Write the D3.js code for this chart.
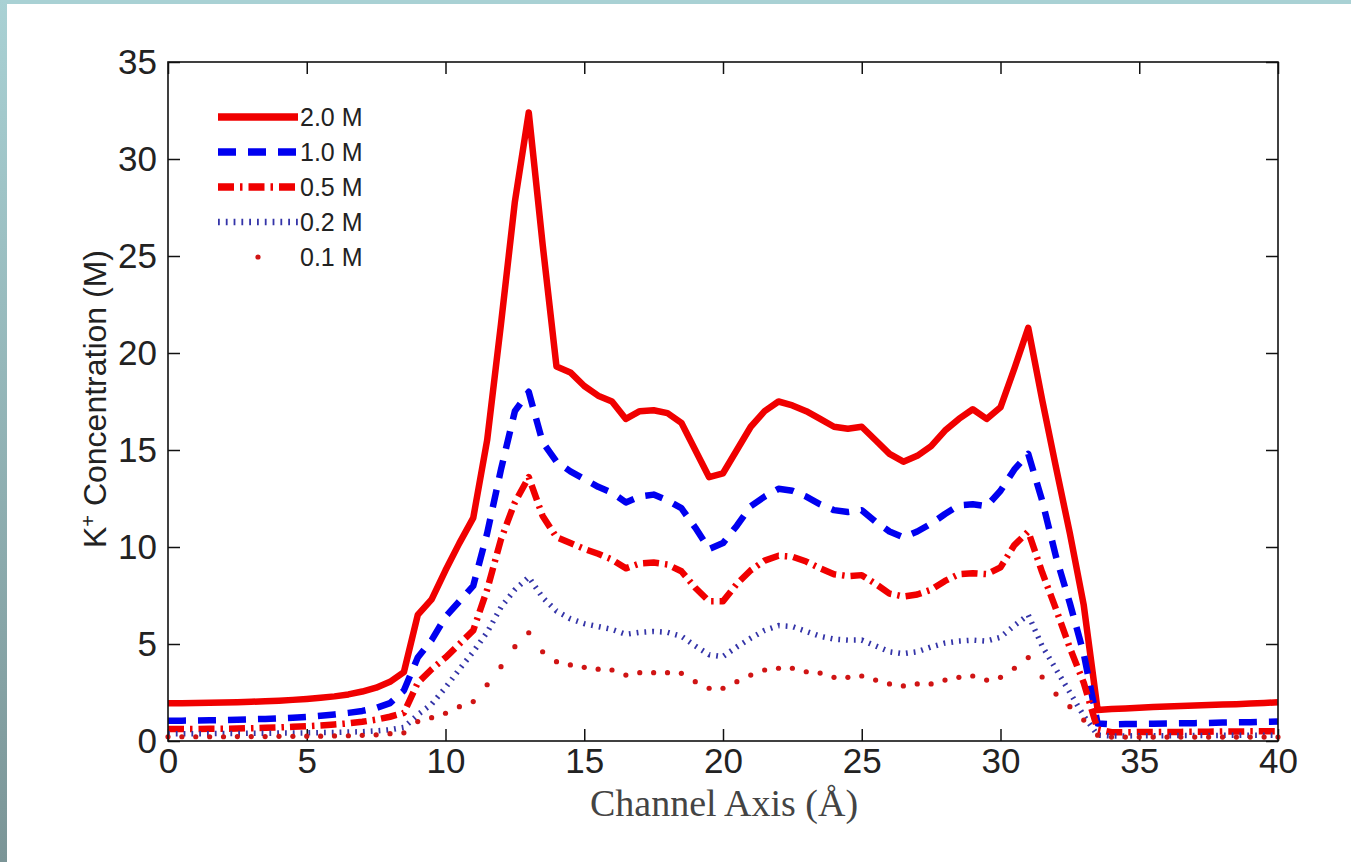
<!DOCTYPE html>
<html>
<head>
<meta charset="utf-8">
<script src="https://d3js.org/d3.v7.min.js"></script>
<style>
  body { margin: 0; background: #fff; }
  svg { display: block; }
</style>
</head>
<body>
<div id="chart"></div>
<script>
// position along the channel axis (Å)
const positions = [0, 0.5, 1, 1.5, 2, 2.5, 3, 3.5, 4, 4.5, 5, 5.5, 6, 6.5, 7, 7.5, 8, 8.5, 9, 9.5,
  10, 10.5, 11, 11.5, 12, 12.5, 13, 13.5, 14, 14.5, 15, 15.5, 16, 16.5, 17, 17.5, 18, 18.5, 19, 19.5,
  20, 20.5, 21, 21.5, 22, 22.5, 23, 23.5, 24, 24.5, 25, 25.5, 26, 26.5, 27, 27.5, 28, 28.5, 29, 29.5,
  30, 30.5, 31, 31.5, 32, 32.5, 33, 33.5, 34, 34.5, 35, 35.5, 36, 36.5, 37, 37.5, 38, 38.5, 39, 39.5, 40];

// K+ concentration (M) for each bulk concentration
const conc20 = [1.95, 1.95, 1.96, 1.97, 1.98, 2.0, 2.02, 2.05, 2.08, 2.12, 2.17, 2.23, 2.3, 2.4, 2.55, 2.75, 3.05, 3.55, 6.5, 7.3,
  8.8, 10.2, 11.5, 15.5, 21.5, 27.8, 32.4, 25.6, 19.3, 19.0, 18.3, 17.8, 17.5, 16.6, 17.0, 17.05, 16.9, 16.4, 15.0, 13.6,
  13.8, 15.0, 16.2, 17.0, 17.5, 17.3, 17.0, 16.6, 16.2, 16.1, 16.2, 15.5, 14.8, 14.4, 14.7, 15.2, 16.0, 16.6, 17.1, 16.6,
  17.2, 19.2, 21.3, 17.6, 14.1, 10.7, 7.0, 1.6, 1.65, 1.68, 1.72, 1.75, 1.78, 1.8, 1.83, 1.86, 1.88, 1.9, 1.93, 1.96, 2.0];
const conc10 = [1.05, 1.05, 1.06, 1.07, 1.08, 1.1, 1.12, 1.14, 1.17, 1.2, 1.24, 1.3, 1.37, 1.45, 1.55, 1.7, 1.95, 2.6, 4.3, 5.2,
  6.4, 7.2, 8.0, 10.7, 14.0, 17.0, 18.0, 15.4, 14.4, 13.9, 13.5, 13.1, 12.8, 12.3, 12.6, 12.7, 12.4, 12.0, 11.0, 9.9,
  10.2, 11.1, 12.1, 12.6, 13.0, 12.9, 12.6, 12.2, 11.9, 11.8, 11.9, 11.3, 10.8, 10.5, 10.8, 11.2, 11.7, 12.15, 12.2, 12.1,
  12.9, 14.0, 14.8, 12.4, 9.5, 7.1, 4.5, 0.9, 0.86, 0.87, 0.88, 0.89, 0.9, 0.91, 0.92, 0.93, 0.95, 0.96, 0.97, 0.99, 1.0];
const conc05 = [0.62, 0.62, 0.62, 0.63, 0.63, 0.64, 0.66, 0.68, 0.7, 0.73, 0.76, 0.8, 0.85, 0.91, 0.99, 1.1, 1.25, 1.45, 3.0, 3.7,
  4.3, 5.0, 5.7, 7.8, 10.4, 12.3, 13.6, 11.6, 10.5, 10.2, 9.9, 9.65, 9.35, 8.9, 9.15, 9.2, 9.1, 8.75, 7.9, 7.2,
  7.2, 8.1, 8.8, 9.3, 9.55, 9.5, 9.25, 8.9, 8.6, 8.5, 8.55, 8.1, 7.6, 7.45, 7.55, 7.8, 8.25, 8.6, 8.65, 8.6,
  8.95, 10.1, 10.8, 8.7, 6.8, 4.8, 3.0, 0.6, 0.45, 0.45, 0.46, 0.46, 0.47, 0.47, 0.48, 0.48, 0.49, 0.49, 0.5, 0.5, 0.5];
const conc02 = [0.38, 0.38, 0.38, 0.38, 0.39, 0.39, 0.4, 0.4, 0.41, 0.41, 0.42, 0.43, 0.44, 0.46, 0.48, 0.52, 0.58, 0.7, 1.35, 1.9,
  2.75, 3.7, 4.6, 5.6, 6.9, 7.8, 8.45, 7.4, 6.7, 6.3, 6.05, 5.9, 5.75, 5.5, 5.6, 5.65, 5.6, 5.4, 4.9, 4.45,
  4.35, 4.85, 5.3, 5.7, 5.95, 5.9, 5.65, 5.4, 5.25, 5.2, 5.2, 4.9, 4.6, 4.5, 4.6, 4.85, 5.05, 5.15, 5.2, 5.15,
  5.35, 5.95, 6.5, 4.9, 3.7, 2.5, 1.3, 0.3, 0.26, 0.26, 0.27, 0.27, 0.27, 0.28, 0.28, 0.28, 0.29, 0.29, 0.3, 0.3, 0.3];
const conc01 = [0.22, 0.22, 0.22, 0.22, 0.22, 0.23, 0.23, 0.23, 0.24, 0.24, 0.25, 0.25, 0.26, 0.27, 0.29, 0.32, 0.38, 0.42, 1.0, 1.2,
  1.43, 1.77, 2.03, 2.9, 3.83, 4.86, 5.58, 4.6, 4.09, 3.92, 3.8, 3.7, 3.66, 3.4, 3.52, 3.52, 3.52, 3.49, 3.06, 2.72,
  2.72, 3.06, 3.4, 3.66, 3.75, 3.75, 3.57, 3.5, 3.28, 3.28, 3.35, 3.14, 2.94, 2.84, 2.94, 2.94, 3.14, 3.28, 3.35, 3.14,
  3.28, 3.75, 4.3, 3.3, 2.42, 1.77, 1.08, 0.3, 0.2, 0.2, 0.2, 0.2, 0.2, 0.2, 0.2, 0.2, 0.2, 0.2, 0.2, 0.2, 0.2];

const seriesNames = ["2.0 M", "1.0 M", "0.5 M", "0.2 M", "0.1 M"];
const seriesValues = [conc20, conc10, conc05, conc02, conc01];
const xTicks = [0, 5, 10, 15, 20, 25, 30, 35, 40];
const yTicks = [0, 5, 10, 15, 20, 25, 30, 35];

// line look of each series, in the same order
const styles = [
  { color: "#f00000", width: 6.5, dash: null },
  { color: "#0000f0", width: 6.5, dash: "18,12" },
  { color: "#f00000", width: 6.5, dash: "16,6,2.5,6" },
  { color: "#3434a8", width: 5.5, dash: "1.8,6" },
  { color: "#d01414", width: 0, dash: null, dots: true }
];

const W = 1351, H = 862;
const margin = { top: 62, right: 73, bottom: 121, left: 168 };
const width = W - margin.left - margin.right;
const height = H - margin.top - margin.bottom;

const svg = d3.select("#chart").append("svg")
  .attr("width", W)
  .attr("height", H);

// slide frame on the left and top
const grad = svg.append("defs").append("linearGradient")
  .attr("id", "frame").attr("x1", 0).attr("y1", 0).attr("x2", 0).attr("y2", 1);
grad.append("stop").attr("offset", "0%").attr("stop-color", "#a9d1d4");
grad.append("stop").attr("offset", "100%").attr("stop-color", "#7b9597");
svg.append("rect").attr("x", 0).attr("y", 0).attr("width", W).attr("height", 4).attr("fill", "#a9d1d4");
svg.append("rect").attr("x", 0).attr("y", 0).attr("width", 7).attr("height", H).attr("fill", "url(#frame)");

svg.select("defs").append("clipPath").attr("id", "plotclip")
  .append("rect").attr("x", -4).attr("y", -4).attr("width", width + 8).attr("height", height + 8);

const g = svg.append("g").attr("transform", `translate(${margin.left},${margin.top})`);

const x = d3.scaleLinear().domain([0, 40]).range([0, width]);
const y = d3.scaleLinear().domain([0, 35]).range([height, 0]);

// axes, ticks pointing inward
const tickFont = "'Liberation Sans', Arial, sans-serif";
g.append("g").attr("transform", `translate(0,${height})`)
  .call(d3.axisBottom(x).tickValues(xTicks).tickSizeInner(-12).tickSizeOuter(0).tickPadding(7));
g.append("g")
  .call(d3.axisLeft(y).tickValues(yTicks).tickSizeInner(-12).tickSizeOuter(0).tickPadding(11));
g.append("g")
  .call(d3.axisTop(x).tickValues(xTicks).tickSizeInner(-12).tickSizeOuter(0).tickFormat(""));
g.append("g").attr("transform", `translate(${width},0)`)
  .call(d3.axisRight(y).tickValues(yTicks).tickSizeInner(-12).tickSizeOuter(0).tickFormat(""));

g.selectAll(".domain").remove();
g.selectAll(".tick line").attr("stroke", "#111").attr("stroke-width", 1.5);
g.selectAll(".tick text")
  .attr("fill", "#222")
  .style("font-family", tickFont)
  .style("font-size", "35px");

// data lines
const plot = g.append("g").attr("clip-path", "url(#plotclip)");
seriesValues.forEach((vals, i) => {
  const st = styles[i];
  const pts = positions.map((p, j) => [p, vals[j]]);
  if (st.dots) {
    plot.selectAll(".dot" + i)
      .data(pts)
      .enter().append("circle")
      .attr("cx", d => x(d[0]))
      .attr("cy", d => y(d[1]))
      .attr("r", 2.6)
      .attr("fill", st.color);
  } else {
    const line = d3.line().x(d => x(d[0])).y(d => y(d[1]));
    plot.append("path")
      .datum(pts)
      .attr("d", line)
      .attr("fill", "none")
      .attr("stroke", st.color)
      .attr("stroke-width", st.width)
      .attr("stroke-dasharray", st.dash)
      .attr("stroke-linejoin", "round");
  }
});

// plot box
g.append("rect")
  .attr("width", width)
  .attr("height", height)
  .attr("fill", "none")
  .attr("stroke", "#111")
  .attr("stroke-width", 1.6);

// legend
const legendRows = [117, 152, 187, 222, 257];
seriesNames.forEach((name, i) => {
  const st = styles[i];
  const ly = legendRows[i];
  if (st.dots) {
    svg.append("circle").attr("cx", 258).attr("cy", ly).attr("r", 2.6).attr("fill", st.color);
  } else {
    svg.append("line")
      .attr("x1", 218).attr("x2", 298).attr("y1", ly).attr("y2", ly)
      .attr("stroke", st.color)
      .attr("stroke-width", st.width + 1)
      .attr("stroke-dasharray", st.dash);
  }
  svg.append("text")
    .attr("x", 300).attr("y", ly + 9)
    .attr("fill", "#222")
    .style("font-family", tickFont)
    .style("font-size", "25px")
    .text(name);
});

// axis titles
const yLabel = svg.append("text")
  .attr("transform", "translate(106,399) rotate(-90)")
  .attr("text-anchor", "middle")
  .attr("fill", "#222")
  .style("font-family", tickFont)
  .style("font-size", "32px");
yLabel.append("tspan").text("K");
yLabel.append("tspan").attr("baseline-shift", "super").style("font-size", "20px").text("+");
yLabel.append("tspan").text(" Concentration (M)");

svg.append("text")
  .attr("x", 724).attr("y", 816)
  .attr("text-anchor", "middle")
  .attr("fill", "#444")
  .style("font-family", "'Liberation Serif', 'Times New Roman', serif")
  .style("font-size", "38px")
  .text("Channel Axis (Å)");
</script>
</body>
</html>
